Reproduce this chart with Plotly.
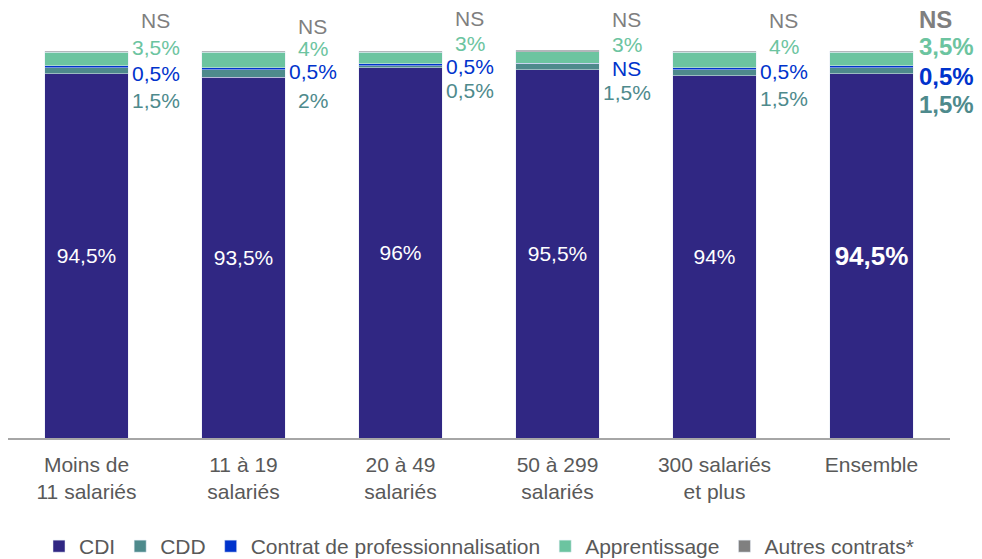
import plotly.graph_objects as go

categories = ["Moins de<br>11 salariés", "11 à 19<br>salariés", "20 à 49<br>salariés",
              "50 à 299<br>salariés", "300 salariés<br>et plus", "Ensemble"]
cdi = [94.5, 93.5, 96, 95.5, 94, 94.5]
cdd = [1.5, 2, 0.5, 1.5, 1.5, 1.5]
pro = [0.5, 0.5, 0.5, 0.2, 0.5, 0.5]
apprentissage = [3.5, 4, 3, 3, 4, 3.5]
autres = [0.3, 0.3, 0.3, 0.3, 0.3, 0.3]

cdi_labels = ["94,5%", "93,5%", "96%", "95,5%", "94%", "<b>94,5%</b>"]
autres_labels = ["NS", "NS", "NS", "NS", "NS", "NS"]
app_labels = ["3,5%", "4%", "3%", "3%", "4%", "3,5%"]
pro_labels = ["0,5%", "0,5%", "0,5%", "NS", "0,5%", "0,5%"]
cdd_labels = ["1,5%", "2%", "0,5%", "1,5%", "1,5%", "1,5%"]

C_CDI = "#302783"
C_CDD = "#4E8A8C"
C_PRO = "#0033CC"
C_APP = "#6CC4A0"
C_AUT = "#808080"
FONT = "Liberation Sans, Arial, sans-serif"
GREY_TXT = "#595959"

idx = list(range(len(categories)))
fig = go.Figure()
fig.add_trace(go.Bar(x=idx, y=cdi, name="CDI", marker_color=C_CDI,
                     text=cdi_labels, textposition="inside", insidetextanchor="middle",
                     textangle=0, constraintext="none",
                     textfont=dict(color="white", size=[21, 21, 21, 21, 21, 26], family=FONT)))
fig.add_trace(go.Bar(x=idx, y=cdd, name="CDD", marker_color=C_CDD, textposition="none"))
fig.add_trace(go.Bar(x=idx, y=pro, name="Contrat de professionnalisation", marker_color=C_PRO, textposition="none"))
fig.add_trace(go.Bar(x=idx, y=apprentissage, name="Apprentissage", marker_color=C_APP, textposition="none"))
fig.add_trace(go.Bar(x=idx, y=autres, name="Autres contrats*", marker_color=C_AUT, textposition="none"))

# page body margin offset (px) and plot height in figure px
OFF = 8
PLOT_H = 431
# label rows (screen pixel y of text centre in the reference) per category
row_px = {
    "aut": [19.5, 25.5, 17.5, 19, 19.5, 18.5],
    "app": [46.5, 47.5, 42.5, 44, 45.5, 46],
    "pro": [72.5, 71, 66, 67.5, 70.5, 76],
    "cdd": [99.5, 100, 89.5, 92, 98, 104],
}
rows = [("aut", autres_labels, "#7F7F7F"), ("app", app_labels, C_APP),
        ("pro", pro_labels, C_PRO), ("cdd", cdd_labels, C_CDD)]
for key, labels, color in rows:
    for i, lab in enumerate(labels):
        last = i == len(labels) - 1
        fig.add_annotation(
            x=i, xref="x", y=1 - (row_px[key][i] - OFF + 1) / PLOT_H, yref="paper",
            text=f"<b>{lab}</b>" if last else lab, showarrow=False,
            xanchor="left" if last else "center", yanchor="middle",
            xshift=45 if last else 69,
            font=dict(family=FONT, size=24 if last else 21, color=color))

fig.update_layout(
    barmode="stack", bargap=0.47,
    width=982, height=559,
    margin=dict(l=0, r=40, t=0, b=128),
    plot_bgcolor="white", paper_bgcolor="white",
    font=dict(family=FONT, size=21, color=GREY_TXT),
    showlegend=True,
    legend=dict(orientation="h", x=0.5, xanchor="center", y=-0.253, yanchor="middle",
                font=dict(family=FONT, size=21, color=GREY_TXT), traceorder="normal",
                itemwidth=30),
    xaxis=dict(tickmode="array", tickvals=idx, ticktext=categories, range=[-0.5, 5.5],
               showline=True, linecolor="#A6A6A6", linewidth=1.5, ticks="",
               ticklabelstandoff=7,
               showgrid=False, tickfont=dict(family=FONT, size=21, color=GREY_TXT)),
    yaxis=dict(range=[0, 431 / 3.865], visible=False, showgrid=False),
)
fig.write_html("out.html")
